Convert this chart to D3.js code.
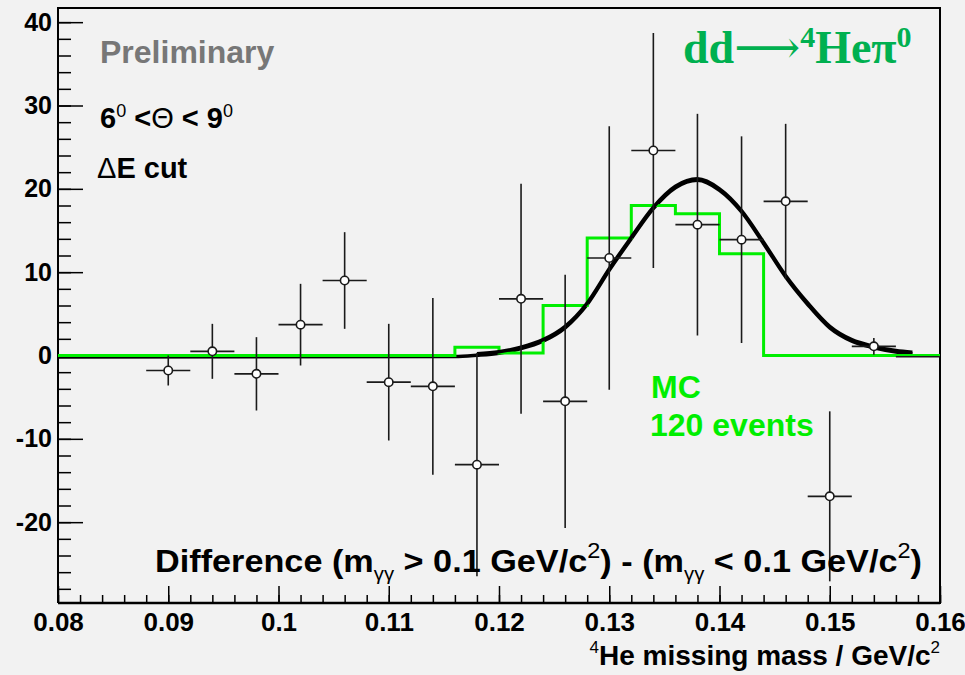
<!DOCTYPE html>
<html>
<head>
<meta charset="utf-8">
<script src="https://cdn.jsdelivr.net/npm/d3@7"></script>
<style>
  html, body { margin: 0; padding: 0; background: #f2f2f2; }
  svg { display: block; }
  text { font-family: "Liberation Sans", Arial, Helvetica, sans-serif; }
</style>
</head>
<body>
<svg id="chart" width="965" height="675"></svg>
<script>
// ---- data ----
const massBins   = [0.090, 0.094, 0.098, 0.102, 0.106, 0.110, 0.114, 0.118, 0.122, 0.126, 0.130, 0.134, 0.138, 0.142, 0.146, 0.150, 0.154, 0.158];
const diffValues = [-1.8, 0.5, -2.2, 3.7, 9.0, -3.2, -3.7, -13.1, 6.8, -5.5, 11.7, 24.6, 15.7, 13.9, 18.5, -16.9, 1.1, -0.15];
const diffErrors = [1.8, 3.3, 4.4, 4.9, 5.8, 7.0, 10.6, 13.4, 13.8, 15.2, 15.8, 14.1, 13.3, 12.4, 9.3, 10.2, 1.0, 0];
const binHalfWidth = 0.002;

const mcEdges  = [0.080, 0.084, 0.088, 0.092, 0.096, 0.100, 0.104, 0.108, 0.112, 0.116, 0.120, 0.124, 0.128, 0.132, 0.136, 0.140, 0.144, 0.148, 0.152, 0.156, 0.160];
const mcCounts = [0, 0, 0, 0, 0, 0, 0, 0, 0, 1.0, 0.3, 6.0, 14.1, 18.0, 17.0, 12.2, 0, 0, 0, 0];

const fitX = [0.080, 0.116, 0.118, 0.120, 0.122, 0.124, 0.126, 0.128, 0.130, 0.132, 0.134, 0.136, 0.138, 0.140, 0.142, 0.144, 0.146, 0.148, 0.150, 0.152, 0.154, 0.156, 0.1575];
const fitY = [0, 0.05, 0.2, 0.45, 1.0, 1.9, 3.5, 6.3, 10.4, 14.2, 17.8, 20.3, 21.2, 20.0, 17.4, 13.6, 9.6, 6.3, 3.5, 1.9, 1.1, 0.6, 0.4];

const xMajorTicks = [0.08, 0.09, 0.10, 0.11, 0.12, 0.13, 0.14, 0.15, 0.16];
const xTickLabels = ["0.08", "0.09", "0.1", "0.11", "0.12", "0.13", "0.14", "0.15", "0.16"];
const yMajorTicks = [-20, -10, 0, 10, 20, 30, 40];
const yTickLabels = ["-20", "-10", "0", "10", "20", "30", "40"];

// ---- layout ----
const svg = d3.select("#chart");
const L = 58, R = 940, T = 8, B = 603;
const x = d3.scaleLinear().domain([0.08, 0.16]).range([L, R]);
const y = d3.scaleLinear().domain([-29.7, 41.7]).range([B, T]);

svg.append("rect").attr("width", 965).attr("height", 675).attr("fill", "#f2f2f2");

// minor / major ticks
const xMinor = d3.range(0, 41).map(i => 0.08 + i * 0.002);
const yMinor = d3.range(-28, 42, 2);

svg.append("g").attr("transform", `translate(0,${B})`)
  .call(d3.axisBottom(x).tickValues(xMinor).tickSize(-8).tickFormat(""))
  .call(g => g.select(".domain").remove())
  .selectAll("line").attr("stroke", "#000").attr("stroke-width", 1.5);

const xAx = svg.append("g").attr("transform", `translate(0,${B})`)
  .call(d3.axisBottom(x).tickValues(xMajorTicks).tickSize(-17).tickPadding(10)
        .tickFormat((d, i) => xTickLabels[i]))
  .call(g => g.select(".domain").remove());
xAx.selectAll("line").attr("stroke", "#000").attr("stroke-width", 1.5);
xAx.selectAll("text").attr("font-size", 26).attr("font-weight", "bold").attr("fill", "#000")
  .style("font-family", "'Liberation Sans', Arial, sans-serif");

svg.append("g").attr("transform", `translate(${L},0)`)
  .call(d3.axisLeft(y).tickValues(yMinor).tickSize(-13).tickFormat(""))
  .call(g => g.select(".domain").remove())
  .selectAll("line").attr("stroke", "#000").attr("stroke-width", 1.5);

const yAx = svg.append("g").attr("transform", `translate(${L},0)`)
  .call(d3.axisLeft(y).tickValues(yMajorTicks).tickSize(-25).tickPadding(6)
        .tickFormat((d, i) => yTickLabels[i]))
  .call(g => g.select(".domain").remove());
yAx.selectAll("line").attr("stroke", "#000").attr("stroke-width", 1.5);
yAx.selectAll("text").attr("font-size", 25).attr("font-weight", "bold").attr("fill", "#000")
  .style("font-family", "'Liberation Sans', Arial, sans-serif");

// frame
svg.append("path")
  .attr("d", `M${L},${B}V${T}H${R}V${B}H${L}`)
  .attr("fill", "none").attr("stroke", "#000").attr("stroke-width", 2);
svg.append("line").attr("x1", L).attr("x2", R).attr("y1", B).attr("y2", B)
  .attr("stroke", "#000").attr("stroke-width", 2.5);

// fit curve (under MC)
const fitData = fitX.map((v, i) => [v, fitY[i]]);
const fitLine = d3.line().x(d => x(d[0])).y(d => y(d[1])).curve(d3.curveMonotoneX);
svg.append("path").datum(fitData).attr("d", fitLine)
  .attr("fill", "none").attr("stroke", "#000").attr("stroke-width", 3.5)
  .attr("transform", "translate(0,1.5)");

// MC histogram (green)
const mcData = mcEdges.map((e, i) => [e, i < mcCounts.length ? mcCounts[i] : mcCounts[mcCounts.length - 1]]);
const stepLine = d3.line().x(d => x(d[0])).y(d => y(d[1])).curve(d3.curveStepAfter);
svg.append("path").datum(mcData).attr("d", stepLine)
  .attr("fill", "none").attr("stroke", "#00ee00").attr("stroke-width", 3);

// fit curve peak section on top of MC
const fitTop = fitData.filter(d => d[0] >= 0.118);
svg.append("path").datum(fitTop).attr("d", fitLine)
  .attr("fill", "none").attr("stroke", "#000").attr("stroke-width", 3.5);

// data points
const pts = massBins.map((m, i) => ({ m, v: diffValues[i], e: diffErrors[i] }));
const gp = svg.append("g").attr("stroke", "#1a1a1a").attr("stroke-width", 1.6);
gp.selectAll(".vbar").data(pts.filter(d => d.e > 0)).join("line")
  .attr("x1", d => x(d.m)).attr("x2", d => x(d.m))
  .attr("y1", d => y(d.v + d.e)).attr("y2", d => y(d.v - d.e));
gp.selectAll(".hbar").data(pts).join("line")
  .attr("x1", d => x(d.m - binHalfWidth)).attr("x2", d => Math.min(R, x(d.m + binHalfWidth)))
  .attr("y1", d => y(d.v)).attr("y2", d => y(d.v));
svg.append("g").selectAll("circle").data(pts.filter(d => d.e > 0)).join("circle")
  .attr("cx", d => x(d.m)).attr("cy", d => y(d.v)).attr("r", 4.2)
  .attr("fill", "#ffffff").attr("stroke", "#1a1a1a").attr("stroke-width", 1.6);

// ---- texts ----
svg.append("text").attr("x", 100).attr("y", 63)
  .attr("font-size", 32).attr("font-weight", "bold").attr("fill", "#777777")
  .text("Preliminary");

const t1 = svg.append("text").attr("x", 100).attr("y", 128)
  .attr("font-size", 29).attr("font-weight", "bold").attr("fill", "#000");
t1.append("tspan").text("6");
t1.append("tspan").attr("font-size", 18).attr("font-weight", "normal").attr("dy", -11).text("0");
t1.append("tspan").attr("dy", 11).text(" <");
t1.append("tspan").attr("font-weight", "normal").text("Θ");
t1.append("tspan").text(" < 9");
t1.append("tspan").attr("font-size", 18).attr("font-weight", "normal").attr("dy", -11).text("0");

const t2 = svg.append("text").attr("x", 97).attr("y", 178)
  .attr("font-size", 29).attr("font-weight", "bold").attr("fill", "#000");
t2.append("tspan").attr("font-weight", "normal").text("Δ");
t2.append("tspan").text("E cut");

const tt = svg.append("text").attr("x", 683).attr("y", 63)
  .attr("font-size", 46).attr("font-weight", "bold").attr("fill", "#00b050")
  .style("font-family", "'Liberation Serif', 'DejaVu Serif', 'Times New Roman', serif");
tt.append("tspan").text("dd");
tt.append("tspan").attr("font-weight", "normal").text("⟶");
tt.append("tspan").attr("font-size", 30).attr("dy", -16).text("4");
tt.append("tspan").attr("dy", 16).text("Heπ");
tt.append("tspan").attr("font-size", 30).attr("dy", -16).text("0");

svg.append("text").attr("x", 651).attr("y", 398)
  .attr("font-size", 32).attr("font-weight", "bold").attr("fill", "#00ee00").text("MC");
svg.append("text").attr("x", 650).attr("y", 436)
  .attr("font-size", 32).attr("font-weight", "bold").attr("fill", "#00ee00").text("120 events");

const tb = svg.append("text").attr("x", 155).attr("y", 572)
  .attr("font-size", 32).attr("font-weight", "bold").attr("fill", "#000")
  .attr("textLength", 767).attr("lengthAdjust", "spacingAndGlyphs");
tb.append("tspan").text("Difference (m");
tb.append("tspan").attr("font-size", 19).attr("font-weight", "normal").attr("dy", 8).text("γγ");
tb.append("tspan").attr("dy", -8).text(" > 0.1 GeV/c");
tb.append("tspan").attr("font-size", 22).attr("font-weight", "normal").attr("dy", -14).text("2");
tb.append("tspan").attr("dy", 14).text(") - (m");
tb.append("tspan").attr("font-size", 19).attr("font-weight", "normal").attr("dy", 8).text("γγ");
tb.append("tspan").attr("dy", -8).text(" < 0.1 GeV/c");
tb.append("tspan").attr("font-size", 22).attr("font-weight", "normal").attr("dy", -14).text("2");
tb.append("tspan").attr("dy", 14).text(")");

const tx = svg.append("text").attr("x", 940).attr("y", 665).attr("text-anchor", "end")
  .attr("font-size", 28).attr("font-weight", "bold").attr("fill", "#000");
tx.append("tspan").attr("font-size", 17).attr("font-weight", "normal").attr("dy", -12).text("4");
tx.append("tspan").attr("dy", 12).text("He missing mass / GeV/c");
tx.append("tspan").attr("font-size", 17).attr("font-weight", "normal").attr("dy", -12).text("2");
</script>
</body>
</html>
